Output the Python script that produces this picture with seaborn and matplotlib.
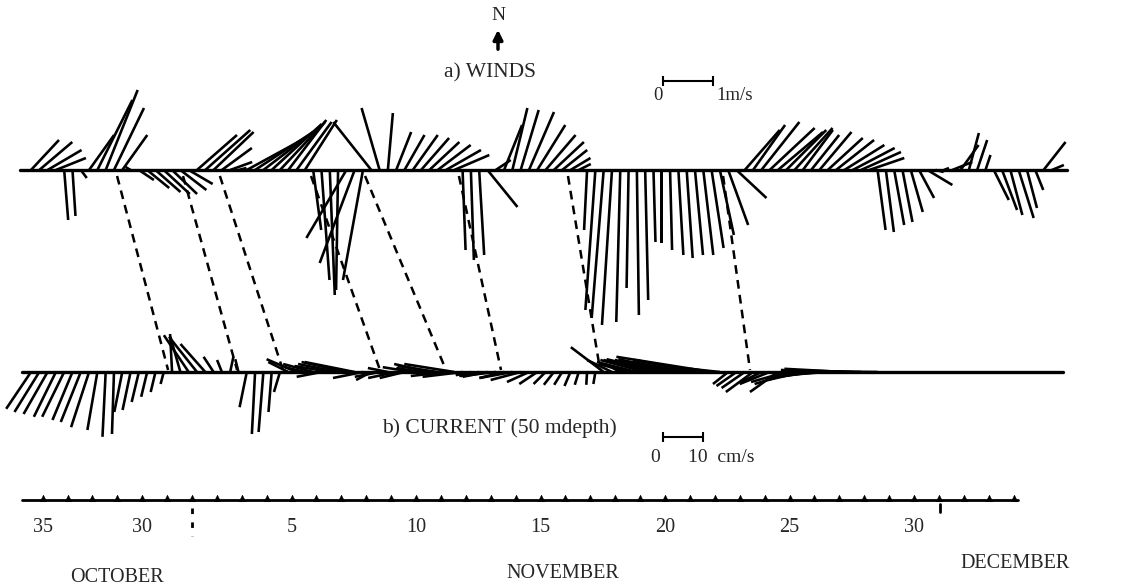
import numpy as np
import matplotlib
matplotlib.use("Agg")
from matplotlib import pyplot as plt
import seaborn as sns

# one observation every 8 hours, time in days from 00:00 1 November
time_days = np.arange(126) / 3 - 6.8

# winds, m/s (east, north)
wind_u = np.array([
    0.00, 0.56, 0.66, 0.68, 0.60, 0.08, 0.06, 0.12, 0.50, 0.70,
    0.64, 0.60, 0.50, -0.10, 0.30, 0.44, 0.50, 0.52, 0.50, 0.52,
    0.48, 0.80, 0.90, 0.80, 0.60, 0.44, 0.16, 1.10, 1.16, 1.10,
    1.00, 0.90, 0.76, 0.70, 0.64, 0.16, 0.16, 0.10, -0.04, -0.80,
    -0.70, -0.40, -0.76, -0.36, 0.10, 0.30, 0.40, 0.50, 0.56, 0.60,
    0.66, 0.70, 0.70, 0.06, 0.06, 0.10, 0.60, 0.30, 0.36, 0.30,
    0.36, 0.50, 0.56, 0.60, 0.60, 0.50, 0.40, 0.24, -0.06, -0.20,
    -0.24, -0.20, -0.08, -0.04, 0.04, 0.06, 0.04, 0.00, 0.04, 0.10,
    0.12, 0.16, 0.20, 0.24, 0.28, 0.40, 0.60, 0.70, 0.64, 0.76,
    0.90, 0.90, 0.80, 0.76, 0.60, 0.56, 0.64, 0.70, 0.76, 0.80,
    0.84, 0.80, 0.70, 0.16, 0.16, 0.20, 0.20, 0.24, 0.30, 0.50,
    0.16, 0.10, 0.40, 0.36, 0.20, 0.20, 0.10, 0.30, 0.30, 0.24,
    0.30, 0.20, 0.16, 0.44, 0.24, 0.00,
])
wind_v = np.array([
    0.00, 0.60, 0.56, 0.40, 0.24, -1.00, -0.92, -0.16, 0.70, 1.40,
    1.60, 1.24, 0.70, 0.06, -0.20, -0.36, -0.44, -0.48, -0.48, -0.40,
    -0.28, 0.70, 0.80, 0.76, 0.44, 0.16, 0.04, 0.60, 0.76, 0.84,
    0.92, 0.96, 1.00, 0.96, 1.00, -1.20, -2.20, -2.50, -2.40, -1.36,
    -1.86, -2.20, 0.96, 1.24, 1.14, 0.76, 0.70, 0.70, 0.64, 0.56,
    0.50, 0.40, 0.30, -1.60, -1.80, -1.70, -0.74, 0.20, 0.90, 1.24,
    1.20, 1.16, 0.90, 0.70, 0.56, 0.40, 0.24, 0.12, -1.20, -2.80,
    -2.96, -3.10, -3.04, -2.36, -2.90, -2.60, -1.44, -1.46, -1.60, -1.70,
    -1.76, -1.70, -1.70, -1.56, -1.30, -1.10, -0.56, 0.80, 0.90, 0.96,
    0.84, 0.76, 0.80, 0.84, 0.80, 0.70, 0.76, 0.64, 0.60, 0.50,
    0.44, 0.36, 0.24, -1.20, -1.24, -1.10, -1.04, -0.84, -0.56, -0.30,
    -0.04, 0.04, 0.16, 0.50, 0.74, 0.60, 0.30, -0.60, -0.80, -0.90,
    -0.96, -0.76, -0.40, 0.56, 0.10, 0.00,
])

# current at 50 m depth, cm/s (east, north)
current_u = np.array([
    0.0, -6.2, -6.2, -6.0, -5.5, -5.5, -5.0, -5.0, -4.5, -2.5,
    -0.8, -0.5, -2.0, -2.0, -1.8, -1.5, -1.2, -0.8, -0.5, -2.5,
    -6.2, -7.0, -6.2, -2.5, -1.2, 0.8, -0.8, -1.8, -0.8, -1.2,
    -0.8, -1.5, -5.0, -7.5, -5.0, -7.5, -6.2, -8.8, -10.0, -11.2,
    -12.5, -7.5, -3.8, -6.2, -5.0, -7.0, -6.2, -7.5, -6.2, -8.8,
    -10.0, -8.8, -12.5, -10.0, -3.8, -5.0, -6.2, -8.8, -6.2, -8.2,
    -7.5, -5.5, -4.5, -3.0, -2.5, -2.0, -1.5, -1.0, -0.2, -0.5,
    -8.2, -6.2, -3.8, -7.5, -10.0, -11.2, -12.5, -13.8, -13.8, -15.0,
    -13.8, -15.0, -17.5, -23.8, -7.5, -3.8, -5.0, -5.8, -6.8, -5.0,
    -7.5, -7.0, -8.8, -10.0, -8.8, -10.0, -11.2, -12.5, -13.8, -15.0,
    -16.2, -18.8, -21.2, -23.8, 0.0, 0.0, 0.0, 0.0, 0.0, 0.0,
    0.0, 0.0, 0.0, 0.0, 0.0, 0.0, 0.0, 0.0, 0.0, 0.0,
    0.0, 0.0, 0.0, 0.0, 0.0, 0.0,
])
current_v = np.array([
    0.0, -9.2, -10.0, -10.5, -11.2, -11.2, -12.0, -12.5, -13.8, -14.5,
    -16.2, -15.5, -10.0, -9.5, -7.5, -6.2, -5.0, -3.0, 9.5, 8.8,
    9.2, 8.8, 7.0, 3.8, 3.0, 3.8, 3.2, -8.8, -15.5, -15.0,
    -10.0, -5.0, 2.5, 3.2, 1.2, 2.0, -1.2, 1.5, 2.0, 2.5,
    2.5, -1.5, -2.0, -1.2, 1.0, -1.5, -1.5, 1.2, 1.0, 2.0,
    1.5, -1.0, 2.0, -1.2, -0.8, -1.0, -1.2, -1.0, -1.5, -1.5,
    -2.0, -2.5, -3.0, -3.0, -3.2, -3.2, -3.5, -3.2, -3.2, -3.0,
    6.2, 3.0, 2.0, 2.0, 2.5, 3.0, 3.0, 3.2, 3.0, 3.2,
    2.5, 3.0, 3.0, 3.8, 0.8, -3.0, -3.5, -4.0, -5.0, -2.5,
    -3.0, -5.0, -2.5, -3.0, -2.0, -1.5, -1.2, -0.8, 0.5, 0.8,
    0.5, 0.2, 0.0, 0.2, 0.0, 0.0, 0.0, 0.0, 0.0, 0.0,
    0.0, 0.0, 0.0, 0.0, 0.0, 0.0, 0.0, 0.0, 0.0, 0.0,
    0.0, 0.0, 0.0, 0.0, 0.0, 0.0,
])

# dashed links: wind event (days) -> current response (days)
link_wind = [-3.01, -0.36, 1.12, 4.78, 6.95, 10.72, 15.10, 21.33]
link_current = [-0.96, 1.81, 3.65, 7.55, 10.20, 12.41, 16.39, 22.41]

tick_days = [-6, -2, 4, 9, 14, 19, 24, 29]
tick_labels = ["35", "30", "5", "10", "15", "20", "25", "30"]
month_names = ["OCTOBER", "NOVEMBER", "DECEMBER"]
month_days = [-3.0, 14.9, 33.05]
month_y = [9, 13, 23]

sns.set_style("white")
plt.rcParams["font.family"] = ["Liberation Serif", "DejaVu Serif"]

fig = plt.figure(figsize=(11.23, 5.86), dpi=100)
ax = fig.add_axes([0, 0, 1, 1])
ax.set_xlim(-7.711, 37.39)
ax.set_ylim(0, 586)
ax.axis("off")

Y_WIND, Y_CUR, Y_AXIS = 416, 214, 86
WIND_SCALE, CUR_SCALE = 2.0, 25.0   # units per inch
px_per_day = 1123 / (37.39 + 7.711)

stick = dict(angles="uv", scale_units="inches", units="dots", width=2.6,
             headwidth=0, headlength=0, headaxislength=0, minlength=0,
             pivot="tail", color="black")

# baselines
sns.lineplot(x=[-6.91, 35.14], y=[Y_WIND, Y_WIND], color="black", lw=2.4, ax=ax)
sns.lineplot(x=[-6.83, 34.98], y=[Y_CUR, Y_CUR], color="black", lw=2.4, ax=ax)

ax.quiver(time_days, np.full(len(time_days), Y_WIND), wind_u, wind_v,
          scale=WIND_SCALE, **stick)
ax.quiver(time_days, np.full(len(time_days), Y_CUR), current_u, current_v,
          scale=CUR_SCALE, **stick)

for tw, tc in zip(link_wind, link_current):
    ax.plot([tw, tc], [Y_WIND - 6, Y_CUR + 2], color="black", lw=1.8,
            ls=(0, (3.5, 2.5)))

# titles and scale bars
x_n = (498 - 192) / px_per_day
ax.text(x_n, 570, "N", ha="center", va="center", fontsize=14)
ax.annotate("", xy=(x_n, 559), xytext=(x_n, 534),
            arrowprops=dict(arrowstyle="-|>", color="black", lw=2.5,
                            mutation_scale=14))
ax.text(11.98, 513, "a) WINDS", ha="center", va="center", fontsize=15.5)

bar_w = 1.0 / WIND_SCALE * 100 / px_per_day
x0 = (663 - 192) / px_per_day
ax.plot([x0, x0 + bar_w], [505, 505], color="black", lw=1.5, marker="|",
        markersize=7, mew=1.5)
ax.text(x0 - 0.2, 490, "0", ha="center", va="center", fontsize=13.5)
ax.text(x0 + bar_w + 0.15, 490, "1m/s", ha="left", va="center", fontsize=13.5)

ax.text((382 - 192) / px_per_day, 158, "b) CURRENT (50 mdepth)", ha="left",
        va="center", fontsize=15.5)
bar_c = 10.0 / CUR_SCALE * 100 / px_per_day
ax.plot([x0, x0 + bar_c], [149, 149], color="black", lw=1.5, marker="|",
        markersize=7, mew=1.5)
ax.text(x0 - 0.3, 129, "0", ha="center", va="center", fontsize=14)
ax.text(x0 + 1.0, 129, "10  cm/s", ha="left", va="center", fontsize=14)

# time axis
days = np.arange(-6, 34)
sns.lineplot(x=[-6.83, 33.17], y=[Y_AXIS, Y_AXIS], color="black", lw=2, ax=ax)
sns.scatterplot(x=days, y=np.full(len(days), Y_AXIS + 2), marker="^", s=22,
                color="black", edgecolor="black", ax=ax)
for d, lab in zip(tick_days, tick_labels):
    ax.text(d, 59, lab, ha="center", va="center", fontsize=14.5)
for name, d, y in zip(month_names, month_days, month_y):
    ax.text(d, y, name, ha="center", va="center", fontsize=14.5)
ax.plot([0, 0], [78, 50], color="black", lw=2, ls=(0, (2, 3)))
ax.plot([30.04, 30.04], [74, 82], color="black", lw=2)

fig.savefig("out.png", dpi=100, facecolor="white")
